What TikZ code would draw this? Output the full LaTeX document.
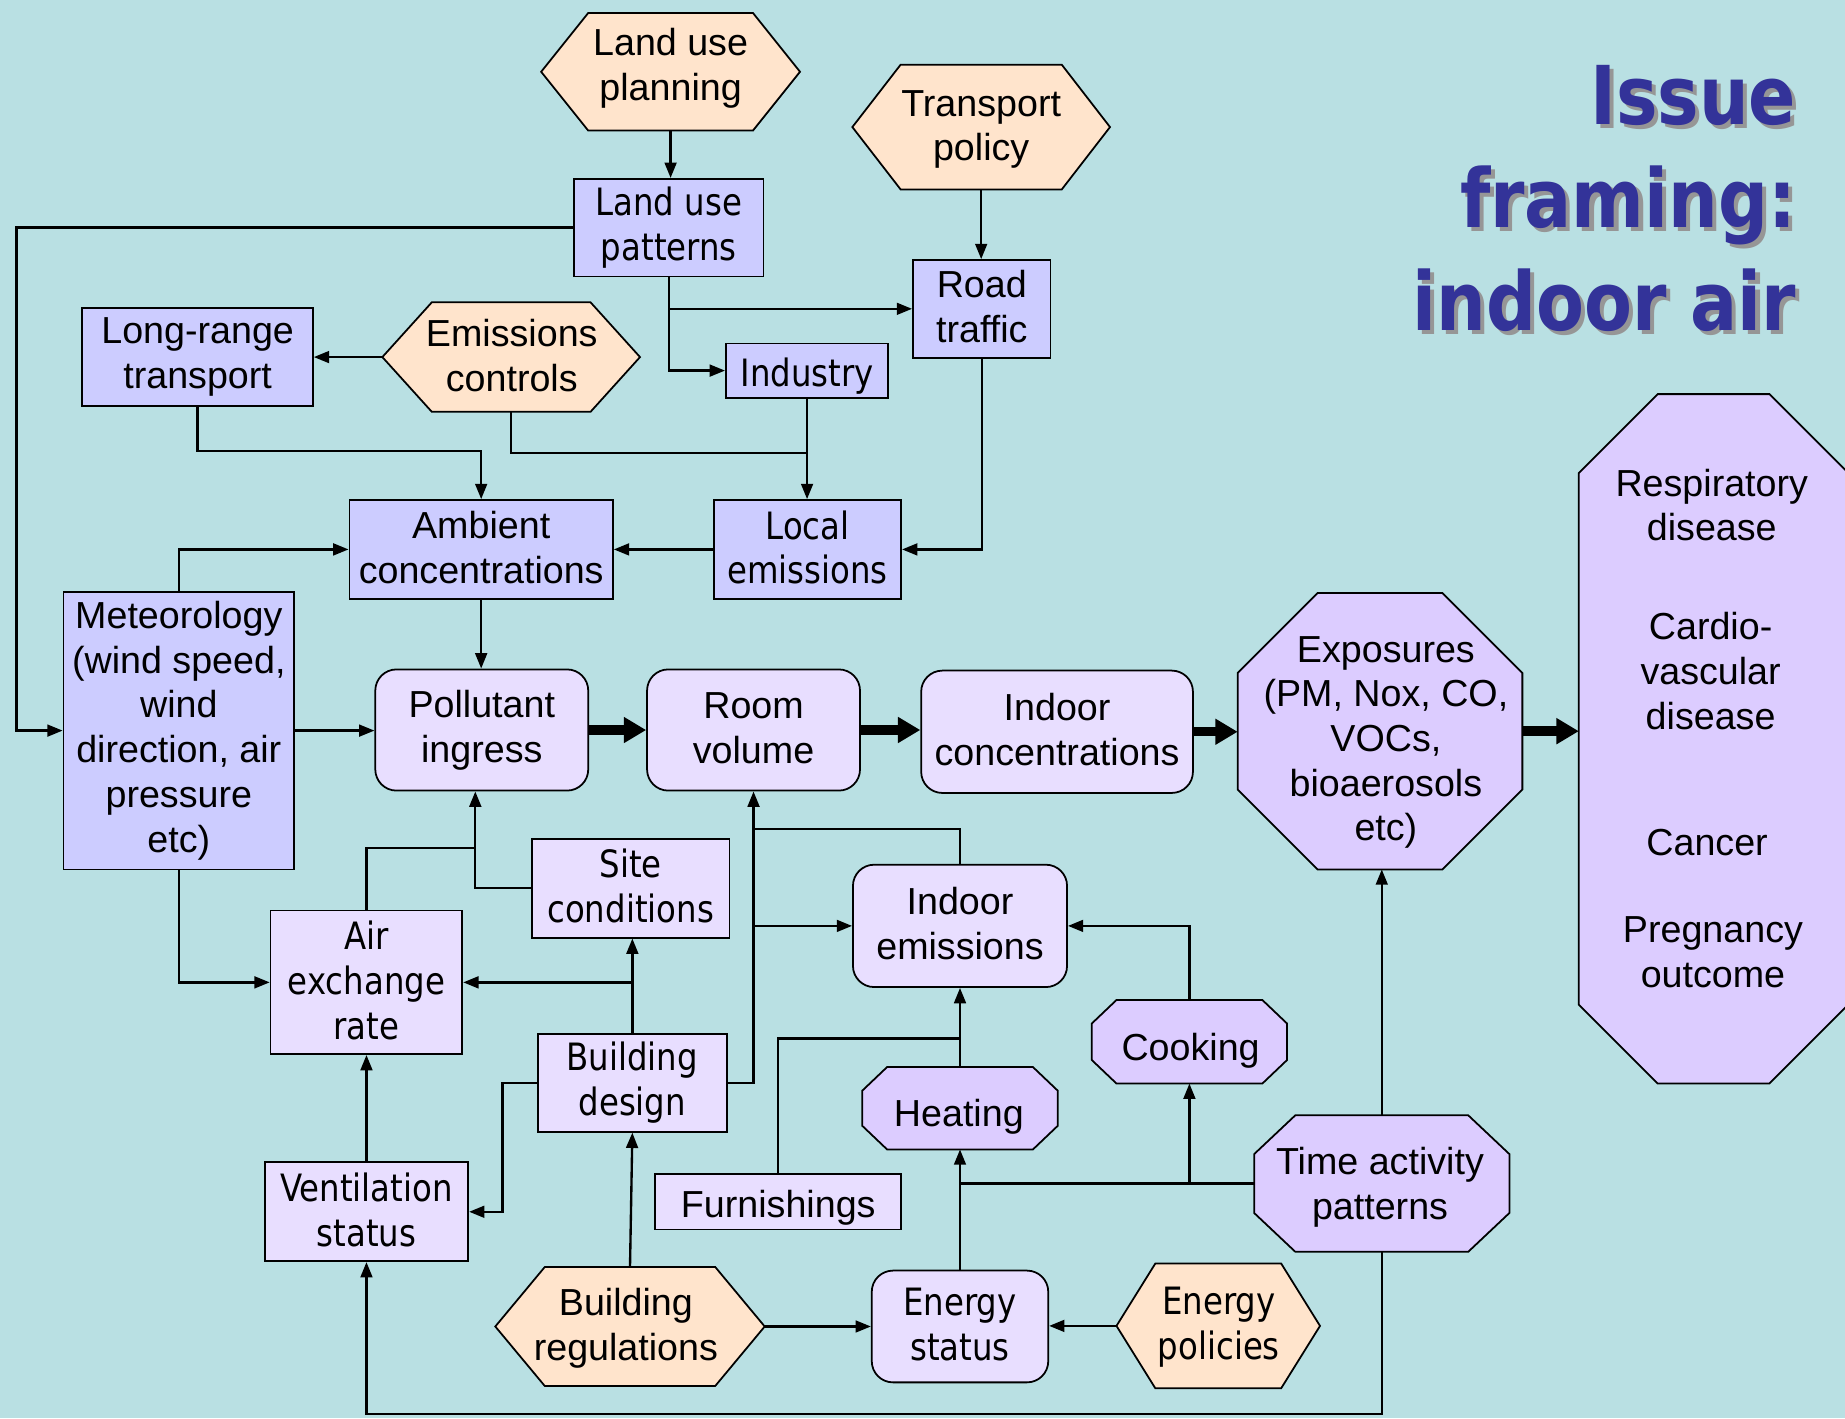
\documentclass[tikz,border=0pt]{standalone}
\usepackage{fontspec}
\setmainfont{Liberation Sans}
\newfontfamily\tahomaf[FakeStretch=0.86]{DejaVu Sans}
\newfontfamily\titlef[FakeStretch=0.86]{DejaVu Sans}
\usetikzlibrary{arrows.meta,calc}
\definecolor{bgc}{RGB}{185,224,227}
\definecolor{orf}{RGB}{255,228,204}
\definecolor{bluef}{RGB}{204,204,255}
\definecolor{lavf}{RGB}{232,222,255}
\definecolor{octf}{RGB}{220,204,255}
\definecolor{titlec}{RGB}{51,51,153}
\definecolor{shadowc}{RGB}{150,150,150}
\newcommand\mystrut{\rule[-3.9pt]{0pt}{38pt}}
\newcommand\hexpoly[3]{%
  \draw[line width=1.5pt, fill=#3] (#1.west) -- ([xshift=#2]#1.north west) -- ([xshift=-#2]#1.north east) -- (#1.east) -- ([xshift=-#2]#1.south east) -- ([xshift=#2]#1.south west) -- cycle;}
\newcommand\octpoly[4]{%
  \draw[line width=1.5pt, fill=#4] ([xshift=#2]#1.north west) -- ([xshift=-#2]#1.north east) -- ([yshift=-#3]#1.north east) -- ([yshift=#3]#1.south east) -- ([xshift=-#2]#1.south east) -- ([xshift=#2]#1.south west) -- ([yshift=#3]#1.south west) -- ([yshift=-#3]#1.north west) -- cycle;}
\tikzset{
  arf/.style={font=\fontsize{32}{38}\selectfont},
  thf/.style={font=\tahomaf\fontsize{32}{38}\selectfont},
  titlefont/.style={font=\titlef\bfseries\fontsize{69}{87}\selectfont, inner sep=0pt},
  box/.style={draw, line width=1.5pt, inner sep=0pt, align=center, execute at begin node=\mystrut, execute at end node=\mystrut},
  bluebox/.style={box, fill=bluef},
  lavbox/.style={box, fill=lavf},
  rbox/.style={lavbox, rounded corners=18pt},
  shapebox/.style={inner sep=0pt, outer sep=0pt, draw=none},
  txt/.style={align=center, inner sep=0pt, execute at begin node=\mystrut, execute at end node=\mystrut},
  arr/.style={line width=2pt, -{Triangle[length=13pt,width=10pt]}},
  ln/.style={line width=2pt},
  bigarr/.style={line width=8pt, -{Triangle[length=19pt,width=21pt]}},
}
\begin{document}
\begin{tikzpicture}[x=1pt,y=-1pt]
\useasboundingbox (0,0) rectangle (1568.25,1205.3);
\fill[bgc] (0,0) rectangle (1568.25,1205.3);

% Title
\node[titlefont, anchor=base east, text=shadowc] (t1s) at (1530.5,109.5) {Issue};
\node[titlefont, anchor=base east, text=titlec] (t1) at (1527,106) {Issue};
\node[titlefont, anchor=base east, text=shadowc] (t2s) at (1530.5,196.5) {framing:};
\node[titlefont, anchor=base east, text=titlec] (t2) at (1527,193) {framing:};
\node[titlefont, anchor=base east, text=shadowc] (t3s) at (1530.5,284) {indoor air};
\node[titlefont, anchor=base east, text=titlec] (t3) at (1527,280.5) {indoor air};

% Hexagons (policies)
\node[shapebox, minimum width=220pt, minimum height=100pt] (lup) at (570,61) {};
\hexpoly{lup}{40pt}{orf}
\node[txt, arf] (lupt) at (570,58) {Land use\\planning};

\node[shapebox, minimum width=219pt, minimum height=106pt] (tp) at (834,108) {};
\hexpoly{tp}{41pt}{orf}
\node[txt, arf] (tpt) at (834,110) {Transport\\policy};

\node[shapebox, minimum width=219pt, minimum height=93pt] (ec) at (434.5,303.5) {};
\hexpoly{ec}{42pt}{orf}
\node[txt, arf] (ect) at (435,304) {Emissions\\controls};

\node[shapebox, minimum width=229pt, minimum height=101pt] (br) at (535.5,1127.5) {};
\hexpoly{br}{42pt}{orf}
\node[txt, arf] (brt) at (532,1129) {Building\\regulations};

\node[shapebox, minimum width=173pt, minimum height=106pt] (ep) at (1035.5,1127) {};
\hexpoly{ep}{33pt}{orf}
\node[txt, thf] (ept) at (1036,1128) {Energy\\policies};

% Octagons
\node[shapebox, minimum width=242pt, minimum height=235pt] (exp) at (1173,621.5) {};
\octpoly{exp}{68pt}{68pt}{octf}
\node[txt, arf] (expt) at (1178,631) {Exposures\\(PM, Nox, CO,\\VOCs,\\bioaerosols\\etc)};

\node[shapebox, minimum width=229pt, minimum height=586pt] (resp) at (1456.5,628) {};
\octpoly{resp}{67pt}{67pt}{octf}
\node[txt, arf] (resp1) at (1455,431) {Respiratory\\disease};
\node[txt, arf] (resp2) at (1454,572) {Cardio-\\vascular\\disease};
\node[txt, arf] (resp3) at (1451,712) {Cancer};
\node[txt, arf] (resp4) at (1456,811) {Pregnancy\\outcome};

\node[shapebox, minimum width=217pt, minimum height=116pt] (tap) at (1174.5,1006) {};
\octpoly{tap}{35pt}{33pt}{octf}
\node[txt, arf] (tapt) at (1173,1009) {Time activity\\patterns};

\node[shapebox, minimum width=166pt, minimum height=71pt] (cook) at (1011,885.5) {};
\octpoly{cook}{21pt}{20pt}{octf}
\node[txt, arf] (cookt) at (1012,888) {Cooking};

\node[shapebox, minimum width=166pt, minimum height=70pt] (heat) at (816,942) {};
\octpoly{heat}{21pt}{20pt}{octf}
\node[txt, arf] (heatt) at (815,944) {Heating};

% Blue rectangles
\node[bluebox, thf, minimum width=161pt, minimum height=83pt] (lupat) at (568.5,193.5) {Land use\\patterns};
\node[bluebox, arf, minimum width=117pt, minimum height=83pt] (rt) at (834.5,262.5) {Road\\traffic};
\node[bluebox, thf, minimum width=138pt, minimum height=46pt] (ind) at (686,315) {Industry};
\node[bluebox, arf, minimum width=196pt, minimum height=83pt] (lrt) at (168,303.5) {Long-range\\transport};
\node[bluebox, arf, minimum width=224pt, minimum height=84pt] (amb) at (409,467) {Ambient\\concentrations};
\node[bluebox, thf, minimum width=159pt, minimum height=84pt] (le) at (686.5,467) {Local\\emissions};
\node[bluebox, arf, minimum width=196pt, minimum height=236pt] (met) at (152,621) {Meteorology\\(wind speed,\\wind\\direction, air\\pressure\\etc)};

% Lavender rectangles
\node[lavbox, thf, minimum width=168pt, minimum height=84pt] (site) at (536,755) {Site\\conditions};
\node[lavbox, thf, minimum width=163pt, minimum height=122pt] (aer) at (311.5,835) {Air\\exchange\\rate};
\node[lavbox, thf, minimum width=161pt, minimum height=83pt] (bd) at (537.5,920.5) {Building\\design};
\node[lavbox, thf, minimum width=173pt, minimum height=84pt] (vs) at (311.5,1030) {Ventilation\\status};
\node[lavbox, arf, minimum width=209pt, minimum height=47pt] (furn) at (661.5,1021.5) {Furnishings};

% Rounded boxes
\node[rbox, arf, minimum width=181pt, minimum height=103pt] (pi) at (409.5,620.5) {Pollutant\\ingress};
\node[rbox, arf, minimum width=181pt, minimum height=103pt] (rv) at (640.5,620.5) {Room\\volume};
\node[rbox, arf, minimum width=231pt, minimum height=104pt] (ic) at (898.5,622) {Indoor\\concentrations};
\node[rbox, arf, minimum width=182pt, minimum height=104pt] (ie) at (816,787) {Indoor\\emissions};
\node[rbox, thf, minimum width=150pt, minimum height=95pt] (es) at (816,1127.5) {Energy\\status};

\coordinate (xl) at (14,0);

% Connectors
\draw[arr] (lup.south) -- (lup.south |- lupat.north);
\draw[arr] (tp.south) -- (tp.south |- rt.north);
\draw[arr] (lupat.west) -- (xl |- lupat.west) |- (met.west);
\draw[arr] (lupat.south) |- (rt.west);
\draw[arr] (lupat.south) |- (ind.west);
\draw[arr] (ec.west) -- (ec.west -| lrt.east);
\draw[arr] (lrt.south) |- ($(amb.north)+(0,-41)$) -- (amb.north);
\draw[ln] (ec.south) |- ($(ind.south |- le.north)+(0,-39)$);
\draw[arr] (ind.south) -- (ind.south |- le.north);
\draw[arr] (rt.south) |- (le.east);
\draw[arr] (le.west) -- (amb.east);
\draw[arr] (met.north) |- (amb.west);
\draw[arr] (amb.south) -- (amb.south |- pi.north);
\draw[arr] (met.east) -- (met.east -| pi.west);

\draw[bigarr] (pi.east) -- (rv.west);
\draw[bigarr] (rv.east) -- (rv.east -| ic.west);
\draw[bigarr] (ic.east) -- (ic.east -| exp.west);
\draw[bigarr] (exp.east) -- (exp.east -| resp.west);

\draw[arr] (site.west) -| ($(pi.south)+(-5.5,0)$);
\draw[ln] (aer.north) |- ($(pi.south)+(-5.5,48)$);
\draw[arr] (met.south) |- (aer.west);
\draw[arr] (bd.north) -- (bd.north |- site.south);
\draw[arr] (bd.north |- aer.east) -- (aer.east);
\draw[arr] (vs.north) -- (vs.north |- aer.south);
\draw[arr] (bd.west) -- ++(-29,0) |- (vs.east);
\draw[arr] (bd.east) -| (rv.south);
\draw[arr] (rv.south |- ie.west) -- (ie.west);
\draw[ln] (ie.north) |- ($(rv.south)+(0,32)$);
\draw[arr] (heat.north) -- (heat.north |- ie.south);
\draw[ln] (furn.north) |- ($(ie.south)+(0,43)$);
\draw[arr] (cook.north) |- (ie.east);
\draw[arr] (es.north) -- (es.north |- heat.south);
\draw[ln] (tap.west) -- (tap.west -| es.north);
\draw[arr] (cook.south |- tap.west) -- (cook.south);
\draw[arr] (tap.north) -- (tap.north |- exp.south);
\draw[arr] (tap.south) -- ++(0,138) -| (vs.south);
\draw[arr] (br.north) -- (bd.south);
\draw[arr] (br.east) -- (br.east -| es.west);
\draw[arr] (ep.west) -- (ep.west -| es.east);
\end{tikzpicture}
\end{document}
